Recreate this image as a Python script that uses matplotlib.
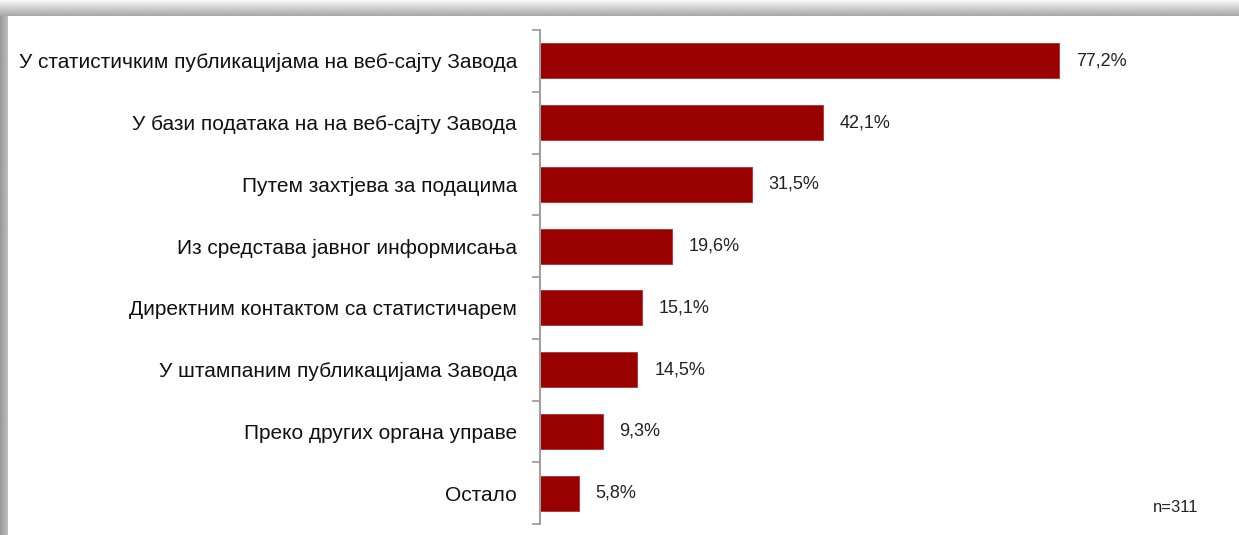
import numpy as np
import matplotlib.pyplot as plt
from matplotlib.patches import Rectangle

categories = [
    "У статистичким публикацијама на веб-сајту Завода",
    "У бази података на на веб-сајту Завода",
    "Путем захтјева за подацима",
    "Из средстава јавног информисања",
    "Директним контактом са статистичарем",
    "У штампаним публикацијама Завода",
    "Преко других органа управе",
    "Остало",
]
values = [77.2, 42.1, 31.5, 19.6, 15.1, 14.5, 9.3, 5.8]
note = "n=311"

label_font = ["Liberation Sans", "DejaVu Sans"]
value_font = ["Liberation Sans", "DejaVu Sans"]

W, H = 1239, 535
fig = plt.figure(figsize=(W / 100, H / 100), dpi=100)
fig.patch.set_facecolor("white")

# shadowed frame behind the chart
bg = fig.add_axes([0, 0, 1, 1], zorder=-10)
bg.set_xlim(0, W)
bg.set_ylim(H, 0)
bg.axis("off")
top = np.linspace(0.97, 0.66, 16).reshape(-1, 1)
bg.imshow(np.repeat(top, 2, axis=1), cmap="gray", vmin=0, vmax=1,
          extent=[0, W, 16, 0], aspect="auto", interpolation="bilinear")
left = np.linspace(0.60, 0.74, 8).reshape(1, -1)
bg.imshow(np.repeat(left, 2, axis=0), cmap="gray", vmin=0, vmax=1,
          extent=[0, 8, H, 16], aspect="auto", interpolation="bilinear")
bg.add_patch(Rectangle((8, 16), W - 8, H - 16, facecolor="white", edgecolor="none"))

ax_left, ax_right = 540, 1219
ax_top, ax_bot = 30, 524
ax = fig.add_axes([ax_left / W, (H - ax_bot) / H, (ax_right - ax_left) / W, (ax_bot - ax_top) / H])
ax.patch.set_alpha(0)

y = np.arange(len(categories))
ax.barh(y, values, height=0.57, color="#990000", edgecolor="#b03030", linewidth=0.6)
ax.set_xlim(0, 101)
ax.set_ylim(len(categories) - 0.5, -0.5)

for yi, v in zip(y, values):
    ax.text(v + 2.5, yi, f"{v:.1f}".replace(".", ",") + "%", va="center", ha="left",
            fontsize=13, color="#222222", family=value_font)

ax.set_yticks(y)
ax.set_yticklabels(categories, fontsize=15, family=label_font, color="#111111")
ax.tick_params(axis="y", which="major", length=0, pad=16.5)
ax.set_yticks(np.arange(-0.5, len(categories)), minor=True)
ax.tick_params(axis="y", which="minor", length=6, width=1.3, color="#a0a0a0", direction="out")
ax.set_xticks([])

for s in ["top", "right", "bottom"]:
    ax.spines[s].set_visible(False)
ax.spines["left"].set_color("#a0a0a0")
ax.spines["left"].set_linewidth(1.5)

fig.text(1153 / W, 1 - 508 / H, note, ha="left", va="center", fontsize=12,
         color="#222222", family=value_font)

fig.savefig("out.png", dpi=100)
